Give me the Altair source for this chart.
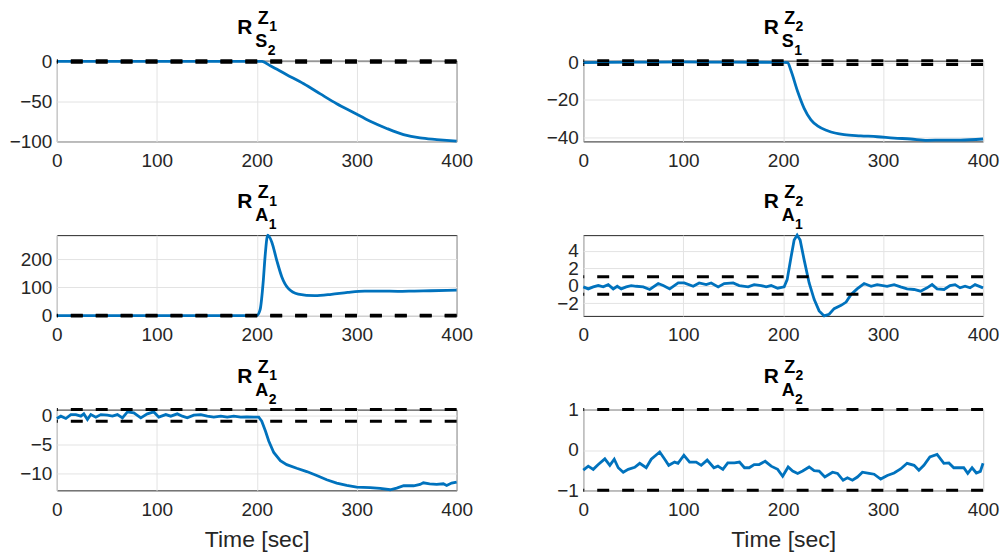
import altair as alt
import pandas as pd

# ---------------- data ----------------
T_AXIS = [0, 100, 200, 300, 400]
THRESH = [1, -1]

T1 = [0, 50, 100, 150, 200, 205.3, 213.6, 230, 247, 263.6, 280, 296.8, 313.5, 330, 346.8, 363.4, 380, 400]
V1 = [0, 0.1, 0.2, 0.1, 0.2, 0, -5.4, -16.6, -28, -40.7, -53, -64, -75, -84, -91.7, -96, -98, -100]

T2 = [0, 50, 100, 150, 200, 204.5, 207.8, 214.5, 221, 227.8, 234.4, 244.4, 261, 277.6, 294.3, 311, 327.5, 344, 360.7, 377.4, 400]
V2 = [0, 0.2, 0.3, 0.2, 0.1, 0, -4.3, -15.5, -24.5, -30.7, -33.9, -36.5, -38.6, -39.2, -39.7, -40.4, -40.9, -41.6, -41.5, -41.5, -40.9]

T3 = [0, 50, 100, 150, 200, 203.3, 206.6, 208.3, 211, 215, 220, 225, 231.5, 241.5, 258, 274.7, 291, 308, 324.6, 341, 357.8, 374, 400]
V3 = [0, 0, 0, 0, 0, 20, 126, 208, 285, 261, 196, 138, 96.5, 76.5, 70.6, 75.3, 82.4, 87, 87, 86, 87, 88, 90]

T4 = [0, 5, 10, 15, 20, 25, 30, 34, 38, 43, 48, 53, 60, 66.5, 75, 80, 86.5, 95, 101, 110,
      116, 123, 128, 135, 141, 150, 156, 165, 171, 178, 183, 188, 194.5, 201, 204, 208, 211,
      214, 217, 221, 226, 231, 236, 241, 246, 251, 258, 263, 268, 274, 281, 288, 294, 304,
      311, 317.5, 324, 331, 337.5, 344, 349, 354, 361, 367, 372, 377, 382, 387, 392, 400]
V4 = [-0.15, -0.38, -0.15, 0, -0.15, 0.11, -0.38, -0.08, -0.38, -0.15, 0, -0.08, -0.15, -0.45,
      0.23, 0, -0.38, 0.3, 0.3, -0.08, 0.3, 0.11, 0.3, -0.15, 0.23, 0.3, 0, -0.15, 0.11, 0,
      -0.15, 0, -0.3, -0.15, 0.68, 3.32, 5.2, 5.77, 5.2, 2.94, 0.3, -1.58, -2.9, -3.47, -3.28,
      -2.64, -2.26, -1.89, -1.02, -0.38, 0.23, -0.08, 0.11, -0.08, 0.11, -0.15, -0.38, -0.45,
      -0.64, -0.26, 0.11, -0.38, -0.45, 0, 0.11, -0.26, -0.08, -0.26, 0.11, -0.26]

T5 = [0, 4, 9, 14, 19, 24, 27, 30.6, 34, 39, 44, 50.6, 55.6, 60.6, 65.6, 70.6, 77, 84, 90.5, 97,
      102, 109, 114, 120.5, 125.5, 130.5, 137, 144, 150.5, 157, 164, 170.5, 177, 184, 190, 197,
      202, 205, 208.7, 212, 217, 223.6, 230, 240, 250, 260, 270, 280, 290, 300, 313.5, 323.5,
      333.5, 340, 347, 357, 363.4, 366.7, 373, 380, 386.7, 390, 395, 400]
V5 = [-0.54, -0.14, -0.54, 0.14, 0.14, -0.14, 0.26, -0.71, 0.14, -0.31, 0.14, 0.03, -0.14, 0.14,
      -0.43, 0.6, 0.43, -0.43, 0.26, 0.6, -0.31, 0.14, -0.14, 0.26, -0.14, -0.43, 0.03, 0.14,
      -0.14, -0.31, -0.14, -0.31, -0.14, -0.31, -0.26, -0.31, -0.31, -1.0, -2.71, -4.43, -6.43,
      -7.86, -8.54, -9.17, -9.74, -10.43, -11.17, -11.74, -12.14, -12.43, -12.54, -12.66,
      -12.89, -12.6, -12.2, -12.2, -11.97, -11.69, -11.86, -11.97, -11.86, -12.14, -11.74, -11.57]

T6 = [0, 5, 10, 15, 21.6, 26.6, 31, 35, 40, 45, 51.5, 56.5, 63, 68, 76.5, 81.5, 85.5, 91.4, 94.8,
      100.7, 106.4, 113, 118, 124, 130.7, 134.7, 139.7, 144.6, 151.3, 156.3, 161.3, 166, 171,
      176, 182, 188, 194.5, 199.5, 205, 209.5, 214.5, 219.5, 226, 231, 236, 241.7, 249.4, 254.4,
      260, 264.3, 269.3, 274.3, 279.3, 286, 291, 297.6, 304.2, 311, 317.5, 324, 331, 335.8,
      340.8, 346.8, 354, 360.8, 365.8, 370.7, 377.4, 380.7, 384.7, 389, 393.3, 397.3, 400]
V6 = [-0.5, -0.4, -0.48, -0.36, -0.22, -0.38, -0.23, -0.44, -0.55, -0.48, -0.43, -0.33, -0.44,
      -0.23, -0.05, -0.23, -0.38, -0.3, -0.33, -0.13, -0.3, -0.3, -0.38, -0.25, -0.44, -0.4,
      -0.48, -0.32, -0.32, -0.3, -0.44, -0.44, -0.36, -0.36, -0.28, -0.4, -0.48, -0.65, -0.42,
      -0.52, -0.58, -0.52, -0.42, -0.51, -0.52, -0.67, -0.55, -0.58, -0.75, -0.69, -0.75, -0.67,
      -0.55, -0.58, -0.6, -0.72, -0.63, -0.57, -0.47, -0.33, -0.38, -0.5, -0.38, -0.17, -0.11,
      -0.33, -0.32, -0.44, -0.44, -0.44, -0.58, -0.44, -0.57, -0.53, -0.33]

SERIES_T = [T1, T2, T3, T4, T5, T6]
SERIES_V = [V1, V2, V3, V4, V5, V6]
Y_DOMAINS = [[-100.3, 1], [-42.2, 1], [-1, 285], [-3.47, 5.77], [-13, 1], [-1, 1]]
Y_TICKS = [[-100, -50, 0], [-40, -20, 0], [0, 100, 200], [-2, 0, 2, 4], [-10, -5, 0], [-1, 0, 1]]
# title parts: R ^{sup _{supsub}} _{sub _{subsub}}
TITLES = [("Z", "1", "S", "2"), ("Z", "2", "S", "1"), ("Z", "1", "A", "1"),
          ("Z", "2", "A", "1"), ("Z", "1", "A", "2"), ("Z", "2", "A", "2")]
X_TITLE = "Time [sec]"

# ---------------- styling ----------------
W, H = 401, 81
FONT = "Liberation Sans"
BLUE = "#0072BD"
CW = {"Z": 0.611, "S": 0.667, "A": 0.722}


def title_layers(parts):
    sup, supsub, sub, subsub = parts
    cx = W / 2
    base = alt.Chart(pd.DataFrame({"a": [0]}))
    specs = [
        ("R", cx - 19.5, -27, 21),
        (sup, cx + 1, -37, 18),
        (supsub, cx + 1 + CW[sup] * 18 + 0.5, -29.5, 14),
        (sub, cx - 1.5, -14, 18),
        (subsub, cx - 1.5 + CW[sub] * 18 + 0.5, -6, 14),
    ]
    out = []
    for txt, x, y, s in specs:
        out.append(base.mark_text(font=FONT, fontWeight="bold", fontSize=s, color="black",
                                  align="left", baseline="alphabetic")
                   .encode(x=alt.value(x), y=alt.value(y), text=alt.value(txt)))
    return out


def panel(i):
    bottom = i >= 4
    df = pd.DataFrame({"t": SERIES_T[i], "v": SERIES_V[i]})
    xenc = alt.X("t:Q", scale=alt.Scale(domain=[0, 400], nice=False),
                 axis=alt.Axis(values=T_AXIS, tickCount=20, tickMinStep=0.01, format="d",
                               title=X_TITLE if bottom else None))
    yenc = alt.Y("v:Q", scale=alt.Scale(domain=Y_DOMAINS[i], nice=False, zero=False),
                 axis=alt.Axis(values=Y_TICKS[i], tickCount=20, tickMinStep=0.01, format="d", title=None))
    interp = "monotone" if i < 3 else "linear"
    line = alt.Chart(df).mark_line(color=BLUE, strokeWidth=2.8, interpolate=interp).encode(x=xenc, y=yenc)
    rules = alt.Chart(pd.DataFrame({"v": THRESH})).mark_rule(
        color="black", strokeWidth=3, strokeDash=[12, 13]).encode(y=alt.Y("v:Q"))
    return alt.layer(line, rules, *title_layers(TITLES[i])).properties(width=W, height=H)


chart = alt.concat(*[panel(i) for i in range(6)], columns=2,
                   spacing={"row": 94, "column": 127}, bounds="flush").properties(
    padding={"left": 0, "top": 0, "right": 0, "bottom": 0}
).configure_view(stroke="#262626", strokeWidth=1).configure_axis(
    domain=False, ticks=False, tickSize=0, grid=True, gridColor="#e3e3e3", gridWidth=1,
    labelFont=FONT, labelFontSize=19, labelColor="#262626", labelFlush=False, labelOverlap=False,
    titleFont=FONT, titleFontSize=23, titleFontWeight="normal", titleColor="#262626",
).configure_axisX(labelPadding=10, titlePadding=9).configure_axisY(labelPadding=5)

chart.save("out.html", embed_options={"renderer": "svg", "actions": False})
